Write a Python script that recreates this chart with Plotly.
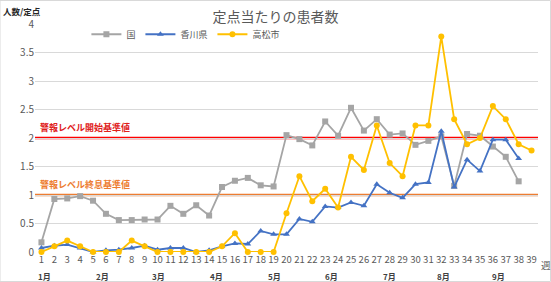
import plotly.graph_objects as go

weeks = list(range(1, 40))
week_labels = [str(w) for w in weeks]

kuni = [0.17, 0.93, 0.94, 0.98, 0.90, 0.67, 0.56, 0.56, 0.57, 0.57,
        0.81, 0.67, 0.82, 0.64, 1.14, 1.25, 1.30, 1.17, 1.15, 2.05,
        1.98, 1.87, 2.29, 2.04, 2.53, 2.13, 2.33, 2.06, 2.08, 1.88,
        1.95, 2.03, 1.16, 2.07, 2.04, 1.85, 1.67, 1.24]
kagawa = [0.07, 0.11, 0.13, 0.07, 0.00, 0.03, 0.04, 0.07, 0.11, 0.04,
          0.07, 0.07, 0.00, 0.03, 0.10, 0.15, 0.14, 0.37, 0.31, 0.31,
          0.58, 0.53, 0.80, 0.78, 0.87, 0.81, 1.19, 1.04, 0.95, 1.19,
          1.22, 2.12, 1.14, 1.62, 1.42, 1.97, 1.97, 1.64]
takamatsu = [0.00, 0.10, 0.20, 0.10, 0.00, 0.00, 0.00, 0.20, 0.10, 0.00,
             0.00, 0.00, 0.00, 0.00, 0.10, 0.33, 0.00, 0.00, 0.00, 0.68,
             1.33, 0.89, 1.11, 0.78, 1.67, 1.44, 2.22, 1.56, 1.33, 2.22,
             2.22, 3.78, 2.33, 1.89, 2.00, 2.56, 2.33, 1.89, 1.78]

months = ["1月", "2月", "3月", "4月", "5月", "6月", "7月", "8月", "9月"]
month_pos = [1.2, 5.7, 10.1, 14.6, 19.1, 23.5, 28.0, 32.2, 36.4]

alarm_start = 2.0
alarm_end = 1.0

FONT = "Noto Sans CJK JP"
fig = go.Figure()

fig.add_trace(go.Scatter(x=weeks[:len(kuni)], y=kuni, name="国", mode="lines+markers",
                         line=dict(color="#A5A5A5", width=1.8),
                         marker=dict(symbol="square", size=6, color="#A5A5A5"), cliponaxis=False))
fig.add_trace(go.Scatter(x=weeks[:len(kagawa)], y=kagawa, name="香川県", mode="lines+markers",
                         line=dict(color="#4472C4", width=1.8),
                         marker=dict(symbol="triangle-up", size=6, color="#4472C4"), cliponaxis=False))
fig.add_trace(go.Scatter(x=weeks[:len(takamatsu)], y=takamatsu, name="高松市", mode="lines+markers",
                         line=dict(color="#FFC000", width=1.8),
                         marker=dict(symbol="circle", size=6, color="#FFC000"), cliponaxis=False))

fig.add_shape(type="line", xref="paper", x0=0, x1=1, yref="y", y0=alarm_start, y1=alarm_start,
              line=dict(color="#FF0000", width=2.5), layer="between")
fig.add_shape(type="line", xref="paper", x0=0, x1=1, yref="y", y0=alarm_end, y1=alarm_end,
              line=dict(color="#ED7D31", width=2.5), layer="between")

fig.add_annotation(text="<b>警報レベル開始基準値</b>", xref="paper", x=0.005, y=alarm_start, yref="y",
                   xanchor="left", yanchor="bottom", yshift=2, showarrow=False,
                   font=dict(family=FONT, size=9, color="#E0201B"))
fig.add_annotation(text="<b>警報レベル終息基準値</b>", xref="paper", x=0.005, y=alarm_end, yref="y",
                   xanchor="left", yanchor="bottom", yshift=2, showarrow=False,
                   font=dict(family=FONT, size=9, color="#ED7D31"))

for m, p in zip(months, month_pos):
    fig.add_annotation(text="<b>" + m + "</b>", x=p, xref="x", y=0, yref="paper", yanchor="top",
                       yshift=-17, xanchor="center", showarrow=False,
                       font=dict(family=FONT, size=8, color="#404040"))

fig.add_annotation(text="週", x=39.5, xref="x", y=0, yref="paper", yanchor="top", yshift=-4,
                   xanchor="left", xshift=1, showarrow=False,
                   font=dict(family=FONT, size=9.5, color="#595959"))
fig.add_annotation(text="<b>人数/定点</b>", xref="paper", x=-0.068, y=1, yref="paper",
                   yanchor="bottom", xanchor="left", yshift=5, showarrow=False,
                   font=dict(family=FONT, size=8.5, color="#262626"))

fig.update_layout(
    width=551, height=282,
    margin=dict(l=35, r=13, t=24, b=30),
    paper_bgcolor="white", plot_bgcolor="white",
    title=dict(text="定点当たりの患者数", x=0.5, xanchor="center", y=0.94, yanchor="middle",
               font=dict(family=FONT, size=14, color="#595959")),
    legend=dict(orientation="h", x=0.3, xanchor="center", y=0.955, yanchor="middle",
                font=dict(family=FONT, size=9, color="#595959"), bgcolor="rgba(0,0,0,0)",
                itemwidth=30, tracegroupgap=0),
    font=dict(family=FONT),
    xaxis=dict(range=[0.5, 39.5], tickvals=weeks, ticktext=week_labels, showgrid=False,
               zeroline=False, showline=False, ticks="", tickangle=0,
               tickfont=dict(family=FONT, size=9.5, color="#595959")),
    yaxis=dict(range=[0, 4], dtick=0.5, showgrid=True, gridcolor="#D9D9D9", gridwidth=1,
               zeroline=False, showline=False, ticks="",
               tickfont=dict(family=FONT, size=10, color="#595959")),
)

fig.add_shape(type="rect", xref="paper", yref="paper",
              x0=-35/503, x1=1 + 12.5/503, y0=-29.5/228, y1=1 + 23.5/228,
              line=dict(color="#D9D9D9", width=1), layer="below")

fig.write_html("out.html")
